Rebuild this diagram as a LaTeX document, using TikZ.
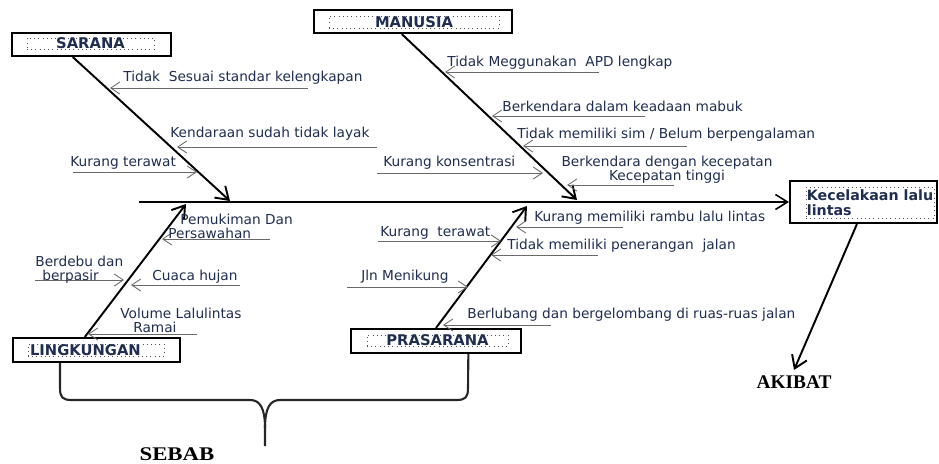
\documentclass[tikz,border=0pt]{standalone}
\usepackage{fontspec}
\setmainfont{DejaVu Sans}
\newfontfamily\serifcap{Liberation Serif}
\usetikzlibrary{arrows.meta,calc}
\definecolor{navy}{RGB}{31,45,80}
\definecolor{twiggray}{RGB}{105,105,105}
\begin{document}
\begin{tikzpicture}[x=0.02cm,y=-0.02cm,
        bone/.style={line width=1.1pt,-{Straight Barb[length=2.4mm,width=3.2mm,line width=1.1pt]}},
        spine/.style={line width=0.9pt,-{Straight Barb[length=2.4mm,width=3mm,line width=0.9pt]}},
        twig/.style={draw=twiggray,line width=0.5pt,-{Straight Barb[length=1.8mm,width=2.4mm]}},
        cause/.style={text=navy,font=\fontsize{7.8}{8}\selectfont,inner sep=0pt,anchor=west,align=left},
        frame/.style={draw,line width=1.2pt,inner sep=0pt},
        tag/.style={draw=black!70,dotted,line width=0.4pt,text=navy,font=\bfseries\fontsize{8.4}{8.6}\selectfont,inner sep=0pt},
        result/.style={font=\serifcap\bfseries\fontsize{11}{12}\selectfont,inner sep=3pt},
        brace/.style={line width=1.2pt,black!85}]
    \useasboundingbox (0,0) rectangle (939,463);
    \node[frame,minimum width=3.18cm,minimum height=0.46cm] (sarana) at (91.5,44.5) {};
    \node[tag,minimum width=2.54cm,minimum height=0.22cm] (saranatag) at (90.5,43.5) {SARANA};
    \node[frame,minimum width=3.96cm,minimum height=0.46cm] (manusia) at (413,21.5) {};
    \node[tag,minimum width=3.4cm,minimum height=0.24cm] (manusiatag) at (414,22) {MANUSIA};
    \node[frame,minimum width=3.34cm,minimum height=0.48cm] (lingkungan) at (96.5,350) {};
    \node[tag,text width=2.72cm,minimum height=0.24cm,align=left] (lingkungantag) at (96,350) {\hspace*{0.04cm}LINGKUNGAN};
    \node[frame,minimum width=3.4cm,minimum height=0.48cm] (prasarana) at (436,341) {};
    \node[tag,minimum width=2.82cm,minimum height=0.22cm] (prasaranatag) at (437.5,340.5) {PRASARANA};
    \node[frame,minimum width=2.94cm,minimum height=0.84cm] (kec) at (863.5,202) {};
    \node[tag,font=\bfseries\fontsize{8.1}{8.6}\selectfont,minimum width=2.56cm,minimum height=0.62cm,align=left] (kectag) at (870,202.5) {Kecelakaan lalu\\lintas};
    \node[result] (akibat) at (794,382) {AKIBAT};
    \node[result,font=\serifcap\bfseries\addfontfeature{FakeStretch=1.18}\fontsize{11}{12}\selectfont] (sebab) at (177,454) {SEBAB};
    \coordinate (tail) at (139,202);
    \coordinate (saranatip) at (230,201);
    \coordinate (manusiatip) at (577,200);
    \coordinate (lingkungantip) at (186,204);
    \coordinate (prasaranatip) at (527,206);
    \draw[spine] (tail) -- (kec.west);
    \draw[bone] ($(sarana.south west)!.384!(sarana.south east)$) -- (saranatip);
    \draw[bone] ($(manusia.south west)!.444!(manusia.south east)$) -- (manusiatip);
    \draw[bone] ($(lingkungan.north west)!.431!(lingkungan.north east)$) -- (lingkungantip);
    \draw[bone] (prasarana.north) -- (prasaranatip);
    \draw[bone] ($(kec.south west)!.456!(kec.south east)$) -- (akibat.north);
    \foreach \n/\xa/\xb/\y in {sa/308/110/88,sb/377/177/147,sc/73/197/172,
            ma/599/445/72,mb/645/492/116,mc/687/523/146,md/377/543/173,me/674/567/185,
            la/270/162/239,lb/35/124/280,lc/240/131/285,ld/197/88/334,
            pa/623/516/227,pb/378/501/241,pc/598/491/255,pd/347/468/287,pe/551/443/325}
    {
        \coordinate (\n1) at (\xa,\y);
        \coordinate (\n2) at (\xb,\y);
        \draw[twig] (\n1) -- (\n2);
    }
    \node[cause] (sat) at (123,78) {Tidak\ \ Sesuai standar kelengkapan};
    \node[cause] (sbt) at (170,134) {Kendaraan sudah tidak layak};
    \node[cause] (sct) at (70,163) {Kurang terawat};
    \node[cause] (mat) at (447,63) {Tidak Meggunakan\ \ APD lengkap};
    \node[cause] (mbt) at (502,106) {Berkendara dalam keadaan mabuk};
    \node[cause] (mct) at (517,135) {Tidak memiliki sim / Belum berpengalaman};
    \node[cause] (mdt) at (383,163) {Kurang konsentrasi};
    \node[cause,anchor=center,align=center] (met) at (667,170) {Berkendara dengan kecepatan\\Kecepatan tinggi};
    \node[cause] (lat) at (168,226) {\hspace*{0.24cm}Pemukiman Dan\\Persawahan};
    \node[cause] (lbt) at (35,269.5) {Berdebu dan\\\hspace*{0.14cm}berpasir};
    \node[cause] (lct) at (152,277) {Cuaca hujan};
    \node[cause] (ldt) at (120,320.5) {Volume Lalulintas\\\hspace*{0.26cm}Ramai};
    \node[cause] (pat) at (534,218) {Kurang memiliki rambu lalu lintas};
    \node[cause] (pbt) at (380,233) {Kurang\ \ terawat};
    \node[cause] (pct) at (507,246) {Tidak memiliki penerangan\ \ jalan};
    \node[cause] (pdt) at (361,277) {Jln Menikung};
    \node[cause] (pet) at (467,315) {Berlubang dan bergelombang di ruas-ruas jalan};
    \coordinate (bracetip) at (265,446);
    \draw[brace] ($(lingkungan.south west)!.284!(lingkungan.south east)$) -- (60,388) .. controls (60,398) and (63,400) .. (72,400) -- (250,400) .. controls (260,400) and (265,408) .. (265,428) -- (bracetip);
    \draw[brace] ($(prasarana.south west)!.688!(prasarana.south east)$) -- (468,388) .. controls (468,398) and (465,400) .. (456,400) -- (280,400) .. controls (270,400) and (265,408) .. (265,428);
\end{tikzpicture}
\end{document}
